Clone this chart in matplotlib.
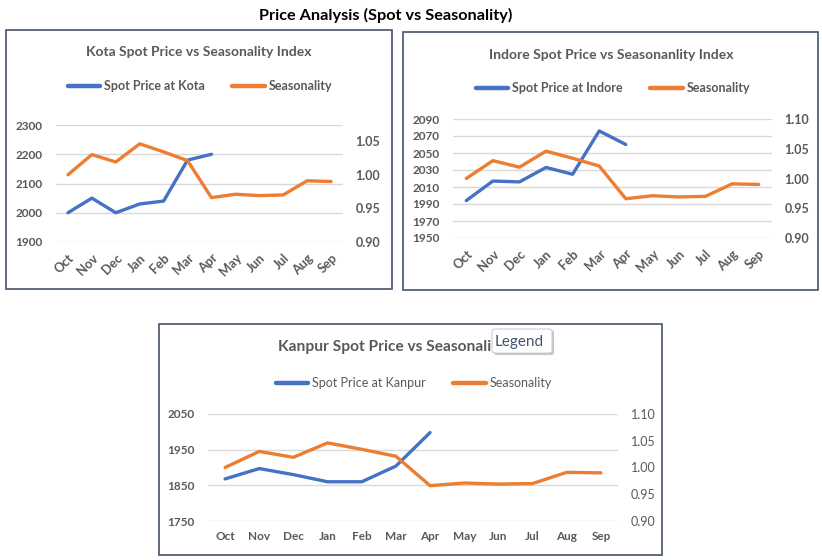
import matplotlib
matplotlib.use("Agg")
import matplotlib.pyplot as plt
from matplotlib.patches import Rectangle, FancyBboxPatch
from matplotlib.lines import Line2D

months = ["Oct", "Nov", "Dec", "Jan", "Feb", "Mar", "Apr", "May", "Jun", "Jul", "Aug", "Sep"]
seasonality = [1.000, 1.030, 1.019, 1.046, 1.034, 1.021, 0.966, 0.971, 0.969, 0.970, 0.991, 0.990]
kota_price = [2000, 2050, 2000, 2030, 2040, 2180, 2200]
indore_price = [1994, 2017, 2016, 2033, 2025, 2076, 2060]
kanpur_price = [1868, 1897, 1880, 1860, 1860, 1904, 1998]

kota_left_ticks = [1900, 2000, 2100, 2200, 2300]
indore_left_ticks = [1950, 1970, 1990, 2010, 2030, 2050, 2070, 2090]
kanpur_left_ticks = [1750, 1850, 1950, 2050]
kota_right_ticks = [0.90, 0.95, 1.00, 1.05]
right_ticks = [0.90, 0.95, 1.00, 1.05, 1.10]

W, H = 822, 560
FONT = "Lato"
BLUE = "#4472C4"
ORANGE = "#ED7D31"
GREY = "#595959"
BORDER = "#44546A"

plt.rcParams['font.family'] = [FONT, 'DejaVu Sans']

fig = plt.figure(figsize=(W / 100, H / 100), dpi=100)
fig.patch.set_facecolor("white")


def fx(x):
    return x / W


def fy(y):
    return 1 - y / H


def box(x0, y0, x1, y1):
    fig.patches.append(Rectangle((fx(x0), fy(y1)), fx(x1 - x0), (y1 - y0) / H,
                                 transform=fig.transFigure, fill=False,
                                 edgecolor=BORDER, linewidth=1.2, zorder=0))


def panel(rect, axrect, title, title_xy, title_size, legend_xy, price, name, lticks, rticks,
          rlim, rotate, tick_bold_right=True, legend_bold=True):
    box(*rect)
    l, t, r, b = axrect
    ax = fig.add_axes([fx(l), fy(b), fx(r - l), (b - t) / H])
    ax2 = ax.twinx()
    x = list(range(len(months)))
    ax.plot(x[:len(price)], price, color=BLUE, lw=2.4, solid_capstyle="round", zorder=3)
    ax2.plot(x, seasonality, color=ORANGE, lw=2.4, solid_capstyle="round", zorder=3)
    ax.set_xlim(-0.5, len(months) - 0.5)
    ax.set_ylim(lticks[0], lticks[-1])
    ax.set_yticks(lticks)
    ax2.set_ylim(*rlim)
    ax2.set_yticks(rticks)
    ax2.set_yticklabels([f"{v:.2f}" for v in rticks])
    ax.set_xticks(x)
    if rotate:
        ax.set_xticklabels(months, rotation=45, ha="right", rotation_mode="anchor",
                           fontweight="bold", color=GREY, fontsize=9.3)
    else:
        ax.set_xticklabels(months, fontweight="bold", color=GREY, fontsize=8.5)
    for lab in ax.get_yticklabels():
        lab.set_fontweight("bold")
        lab.set_color(GREY)
        lab.set_fontsize(8.5)
    for lab in ax2.get_yticklabels():
        lab.set_fontweight("bold" if tick_bold_right else "normal")
        lab.set_color(GREY)
        lab.set_fontsize(9)
    ax.grid(axis="y", color="#D9D9D9", lw=1)
    ax.set_axisbelow(True)
    for a in (ax, ax2):
        for s in a.spines.values():
            s.set_visible(False)
        a.tick_params(length=0)
    ax.tick_params(axis="y", pad=9.5)
    ax.tick_params(axis="x", pad=7)
    ax2.tick_params(axis="y", pad=9)
    ax2.set_zorder(ax.get_zorder() + 1)
    ax2.patch.set_visible(False)
    fig.text(fx(title_xy[0]), fy(title_xy[1]), title, ha="center", va="center",
             fontsize=title_size, fontweight="bold", color=GREY, zorder=3)
    handles = [Line2D([0], [0], color=BLUE, lw=3.2, solid_capstyle="round"),
               Line2D([0], [0], color=ORANGE, lw=3.2, solid_capstyle="round")]
    fig.legend(handles, [f"Spot Price at {name}", "Seasonality"], loc="center",
               bbox_to_anchor=(fx(legend_xy[0]), fy(legend_xy[1])), ncol=2, frameon=False,
               handlelength=2.6, handletextpad=0.3, columnspacing=2.2,
               prop={"family": FONT, "size": 9, "weight": "bold" if legend_bold else "normal"},
               labelcolor=GREY)
    return ax, ax2


panel((6, 30, 392, 289), (56, 125, 343, 242), "Kota Spot Price vs Seasonality Index",
      (199, 52), 10, (200, 86), kota_price, "Kota", kota_left_ticks, kota_right_ticks,
      (0.90, 1.074), True)
panel((403, 32, 818, 290), (453, 119, 772, 238), "Indore Spot Price vs Seasonanlity Index",
      (611, 55), 10, (613, 88), indore_price, "Indore", indore_left_ticks, right_ticks,
      (0.90, 1.10), True)
panel((159, 324, 662, 555), (208, 414, 618, 521), "Kanpur Spot Price vs Seasonality Index",
      (413, 347), 11.2, (414, 383), kanpur_price, "Kanpur", kanpur_left_ticks, right_ticks,
      (0.90, 1.10), False, tick_bold_right=False, legend_bold=False)

fig.text(fx(386), fy(15), "Price Analysis (Spot vs Seasonality)", ha="center", va="center",
         fontsize=11.7, fontweight="bold", color="black")

# tooltip overlay (covers the end of the Kanpur title, as in the reference)
shadow = FancyBboxPatch((fx(494), fy(355)), fx(60), 25 / H,
                        boxstyle="round,pad=0,rounding_size=0.004",
                        transform=fig.transFigure, facecolor="#C4C4C4", edgecolor="none", zorder=9)
tip = FancyBboxPatch((fx(492), fy(353)), fx(60), 24 / H,
                     boxstyle="round,pad=0,rounding_size=0.004",
                     transform=fig.transFigure, facecolor="white", edgecolor="#D0D0D0", lw=0.8,
                     zorder=10)
fig.patches.extend([shadow, tip])
fig.text(fx(519), fy(342), "Legend", ha="center", va="center", fontsize=11,
         color="#44546A", zorder=11)

fig.savefig("out.png", dpi=100, facecolor="white")
